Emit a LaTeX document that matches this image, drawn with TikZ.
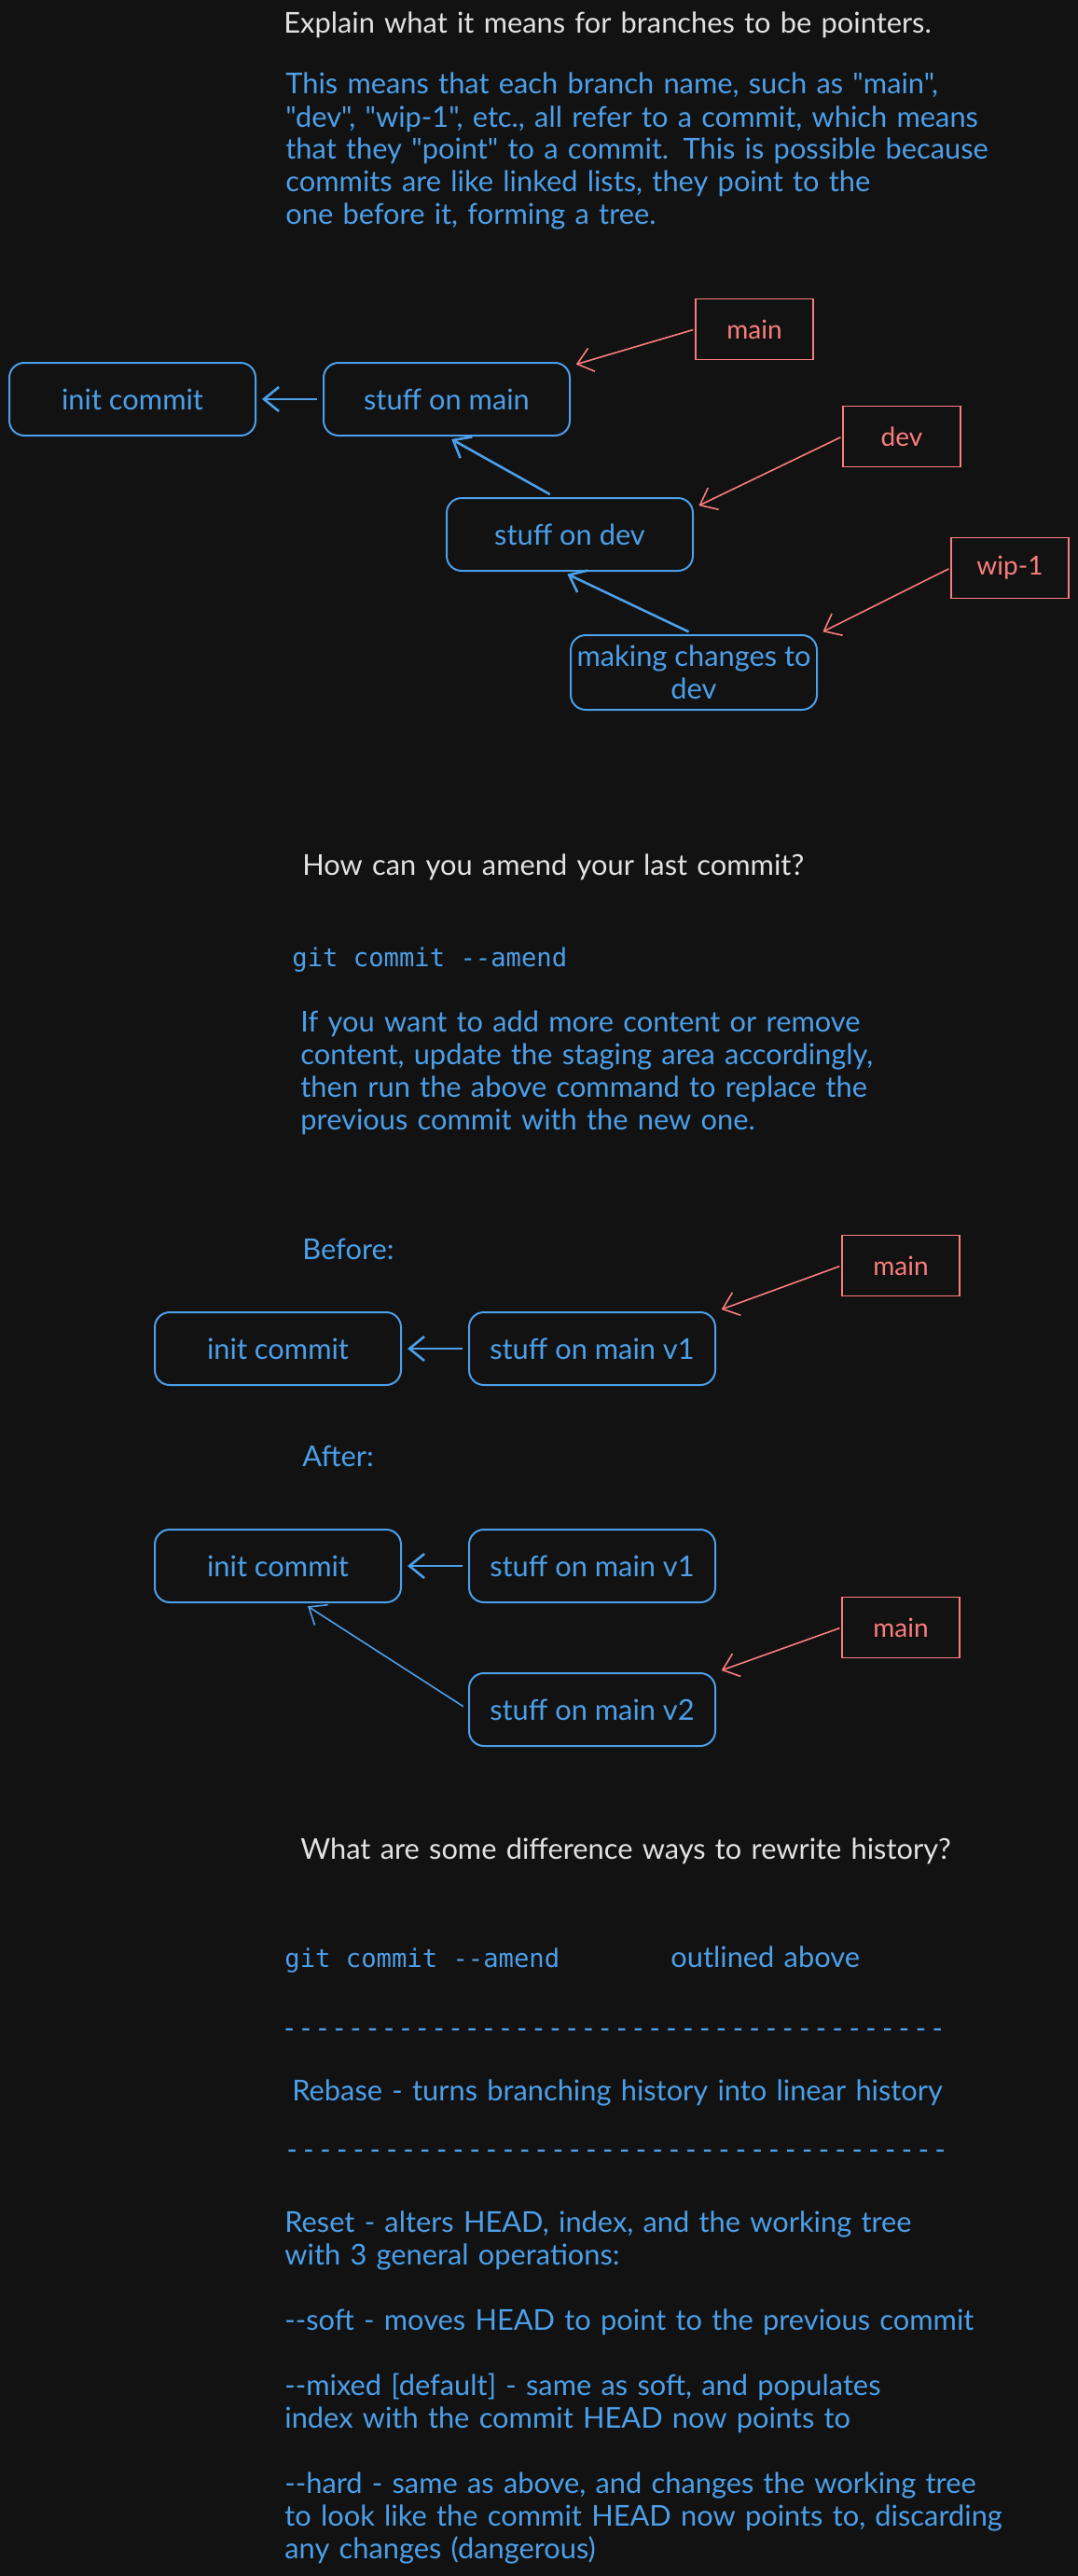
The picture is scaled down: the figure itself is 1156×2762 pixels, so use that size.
\documentclass[tikz,border=0pt]{standalone}
\usepackage{fontspec}
\usepackage{tikz}
\usetikzlibrary{arrows.meta}
\newfontfamily\handfont{Lato}
\newfontfamily\codefont{DejaVu Sans Mono}
\definecolor{bg}{RGB}{18, 18, 18}
\definecolor{commit}{RGB}{76, 159, 232}
\definecolor{branch}{RGB}{250, 125, 125}
\definecolor{note}{RGB}{226, 226, 226}

\begin{document}
\begin{tikzpicture}[x=0.5pt, y=-0.5pt,
        every node/.style={font=\handfont\fontsize{15.4pt}{17.5pt}\selectfont},
        commitbox/.style={draw=commit, text=commit, line width=1pt, rounded corners=8pt,
            minimum width=132pt, minimum height=39pt, align=center},
        branchbox/.style={draw=branch, text=branch, line width=0.8pt,
            minimum width=63pt, minimum height=32.5pt, font=\handfont\fontsize{14pt}{17pt}\selectfont},
        para/.style={anchor=base west, inner sep=0pt, text width=440pt, align=left, text=commit},
        question/.style={para, text=note},
        code/.style={anchor=base west, inner sep=0pt, text=commit,
            font=\codefont\fontsize{13.6pt}{17pt}\selectfont},
        rule/.style={anchor=base west, inner sep=0pt, text=commit,
            font=\codefont\fontsize{14.8pt}{17pt}\selectfont},
        pointer/.style={commit, line width=1.3pt, shorten <=3pt, shorten >=3pt,
            -{Straight Barb[length=8pt, width=13pt]}},
        branchptr/.style={branch, line width=0.8pt, shorten <=1pt, shorten >=3pt,
            -{Straight Barb[length=8pt, width=13pt]}}]
        \path[use as bounding box, fill=bg] (0, 0) rectangle (1156, 2762);

        \node[question](q1) at (304, 36) {Explain what it means for branches to be pointers.};
        \node[para](p1) at (306, 101) {This means that each branch name, such as "main",\\
            "dev", "wip-1", etc., all refer to a commit, which means\\
            that they "point" to a commit. This is possible because\\
            commits are like linked lists, they point to the\\
            one before it, forming a tree.};

        \node[commitbox](init) at (142, 428) {init commit};
        \node[commitbox](smain) at (479, 428) {stuff on main};
        \node[commitbox](sdev) at (611, 573) {stuff on dev};
        \node[commitbox, minimum height=40pt, inner sep=2pt](mk) at (744, 721) {making changes to\\dev};
        \node[branchbox](bmain) at (809, 353) {main};
        \node[branchbox](bdev) at (967, 468) {dev};
        \node[branchbox](bwip) at (1083, 609) {wip-1};
        \draw[pointer] (smain.west) -- (init.east);
        \draw[pointer] ([xshift=-8pt]sdev.north) -- (smain.south);
        \draw[pointer] (mk.north) -- ([xshift=-4pt]sdev.south);
        \draw[branchptr] (bmain.west) -- (smain.15);
        \draw[branchptr] (bdev.west) -- (sdev.12);
        \draw[branchptr] (bwip.west) -- (mk.north east);

        \node[question](q2) at (324, 938) {How can you amend your last commit?};
        \node[code](c1) at (313, 1036) {git commit --amend};
        \node[para](p2) at (322, 1106) {If you want to add more content or remove\\
            content, update the staging area accordingly,\\
            then run the above command to replace the\\
            previous commit with the new one.};

        \node[para](before) at (324, 1350) {Before:};
        \node[commitbox](binit) at (298, 1446) {init commit};
        \node[commitbox](bv1) at (635, 1446) {stuff on main v1};
        \node[branchbox](bbmain) at (966, 1357) {main};
        \draw[pointer] (bv1.west) -- (binit.east);
        \draw[branchptr] (bbmain.west) -- (bv1.north east);

        \node[para](after) at (324, 1572) {After:};
        \node[commitbox](ainit) at (298, 1679) {init commit};
        \node[commitbox](av1) at (635, 1679) {stuff on main v1};
        \node[commitbox](av2) at (635, 1833) {stuff on main v2};
        \node[branchbox](abmain) at (966, 1745) {main};
        \draw[pointer] (av1.west) -- (ainit.east);
        \draw[pointer, line width=0.8pt] (av2.west) -- (ainit.-56);
        \draw[branchptr] (abmain.west) -- (av2.north east);

        \node[question](q3) at (322, 1993) {What are some difference ways to rewrite history?};
        \node[code](c2) at (305, 2109) {git commit --amend};
        \node[para, text width=200pt](outl) at (719, 2109) {outlined above};
        \node[rule](r1) at (301, 2184) {----------------------------------------};
        \node[para](rebase) at (313, 2252) {Rebase - turns branching history into linear history};
        \node[rule](r2) at (304, 2314) {----------------------------------------};
        \node[para](reset) at (305, 2393) {Reset - alters HEAD, index, and the working tree\\
            with 3 general operations:\\[17.5pt]
            --soft - moves HEAD to point to the previous commit\\[17.5pt]
            --mixed [default] - same as soft, and populates\\
            index with the commit HEAD now points to\\[17.5pt]
            --hard - same as above, and changes the working tree\\
            to look like the commit HEAD now points to, discarding\\
            any changes (dangerous)};
    \end{tikzpicture}
\end{document}
